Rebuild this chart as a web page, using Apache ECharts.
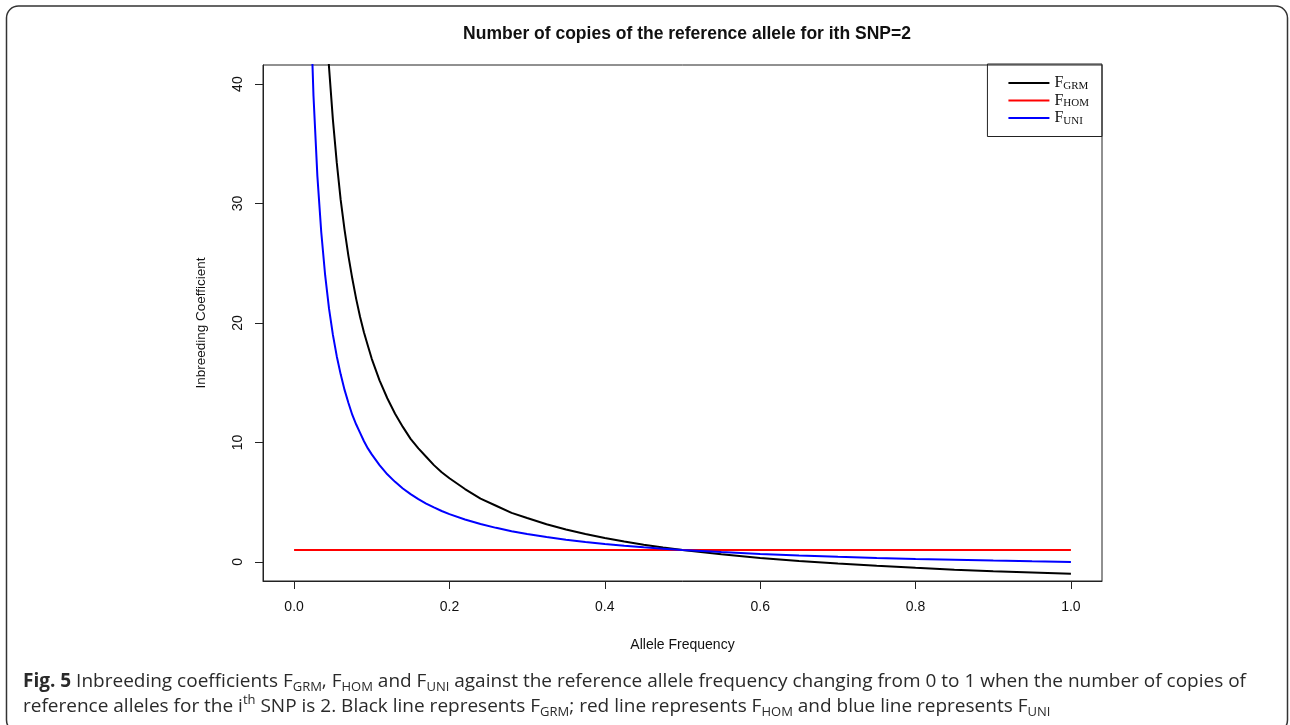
<!DOCTYPE html>
<html>
<head>
<meta charset="utf-8">
<title>Inbreeding coefficients</title>
<script src="https://cdn.jsdelivr.net/npm/echarts@6/dist/echarts.min.js"></script>
<style>
  html, body { margin: 0; padding: 0; background: #fff; }
  #chart-container { width: 1290px; height: 725px; }
</style>
</head>
<body>
<div id="chart-container"></div>
<script>
// allele frequency (x) and values
const freq = [0.020, 0.025, 0.030, 0.035, 0.040, 0.045, 0.050, 0.055, 0.060, 0.065, 0.070, 0.075,
  0.080, 0.085, 0.090, 0.095, 0.100, 0.11, 0.12, 0.13, 0.14, 0.15, 0.16, 0.17, 0.18, 0.19,
  0.20, 0.22, 0.24, 0.26, 0.28, 0.30, 0.325, 0.35, 0.375, 0.40, 0.425, 0.45, 0.475, 0.50,
  0.55, 0.60, 0.65, 0.70, 0.75, 0.80, 0.85, 0.90, 0.95, 1.00];
const fGrm = [97, 77, 63.7, 54.1, 47, 41.4, 37, 33.4, 30.3, 27.8, 25.6, 23.7,
  22, 20.5, 19.2, 18.1, 17, 15.2, 13.7, 12.4, 11.3, 10.3, 9.5, 8.8, 8.1, 7.5,
  7, 6.1, 5.3, 4.7, 4.1, 3.67, 3.15, 2.71, 2.33, 2, 1.71, 1.44, 1.21, 1,
  0.64, 0.33, 0.08, -0.14, -0.33, -0.5, -0.65, -0.78, -0.89, -1];
const fUni = [49, 39, 32.3, 27.6, 24, 21.2, 19, 17.2, 15.7, 14.4, 13.3, 12.3,
  11.5, 10.8, 10.1, 9.5, 9, 8.1, 7.33, 6.7, 6.14, 5.67, 5.25, 4.88, 4.56, 4.26,
  4, 3.55, 3.17, 2.85, 2.57, 2.33, 2.08, 1.86, 1.67, 1.5, 1.35, 1.22, 1.11, 1,
  0.82, 0.67, 0.54, 0.43, 0.33, 0.25, 0.18, 0.11, 0.05, 0];
const homFreq = [0, 1];
const fHom = [1, 1];

const xTicks = [0, 0.2, 0.4, 0.6, 0.8, 1.0];
const yTicks = [0, 10, 20, 30, 40];

const pairs = (xs, ys) => xs.map((x, i) => [x, ys[i]]);

const labelFont = 'Liberation Sans, Arial, sans-serif';
const serifFont = 'Liberation Serif, Times New Roman, serif';
const capFont = 'Open Sans, sans-serif';

const myChart = echarts.init(document.getElementById('chart-container'));

const lineSeries = (name, data, color) => ({
  name: name,
  type: 'line',
  data: data,
  showSymbol: false,
  symbol: 'none',
  clip: true,
  lineStyle: { width: 2, color: color },
  itemStyle: { color: color }
});

const option = {
  animation: false,
  backgroundColor: '#fff',
  title: [
    {
      text: 'Number of copies of the reference allele for ith SNP=2',
      left: 682, top: 20, textAlign: 'center',
      textStyle: { fontFamily: labelFont, fontSize: 17.5, fontWeight: 'bold', color: '#111' }
    },
    {
      // figure caption
      text: '{b|Fig. 5} Inbreeding coefficients F{sub|GRM}, F{sub|HOM} and F{sub|UNI} against the reference allele frequency changing from 0 to 1 when the number of copies of\n' +
        'reference alleles for the i{sup|th} SNP is 2. Black line represents F{sub|GRM}; red line represents F{sub|HOM} and blue line represents F{sub|UNI}',
      left: 18, top: 664,
      textStyle: {
        fontFamily: capFont, fontSize: 19, fontWeight: 'normal', color: '#2a2a2a', lineHeight: 25,
        rich: {
          b: { fontFamily: capFont, fontSize: 19, fontWeight: 'bold', color: '#2a2a2a', lineHeight: 25 },
          sub: { fontFamily: capFont, fontSize: 13, color: '#2a2a2a', lineHeight: 12, verticalAlign: 'bottom' },
          sup: { fontFamily: capFont, fontSize: 13, color: '#2a2a2a', lineHeight: 18, verticalAlign: 'top' }
        }
      }
    }
  ],
  legend: {
    orient: 'vertical',
    right: 188, top: 64,
    selectedMode: false,
    icon: 'rect',
    itemWidth: 41, itemHeight: 2, itemGap: 1,
    padding: [11, 13, 10, 21],
    borderColor: '#222', borderWidth: 1,
    data: ['GRM', 'HOM', 'UNI'],
    formatter: name => '{f|F}{s|' + name + '}',
    textStyle: {
      color: '#111',
      rich: {
        f: { fontFamily: serifFont, fontSize: 16, lineHeight: 17, color: '#111' },
        s: { fontFamily: serifFont, fontSize: 11, lineHeight: 13, color: '#111', verticalAlign: 'bottom' }
      }
    }
  },
  grid: {
    left: 263, right: 188, top: 65, bottom: 144,
    show: true, borderColor: '#222', borderWidth: 1
  },
  xAxis: {
    type: 'value',
    min: -0.04, max: 1.04,
    name: 'Allele Frequency',
    nameLocation: 'middle',
    nameGap: 57,
    nameTextStyle: { fontFamily: labelFont, fontSize: 14, color: '#111' },
    splitLine: { show: false },
    axisLine: { show: true, onZero: false, lineStyle: { color: '#222', width: 1 } },
    axisTick: { show: true, length: 8, customValues: xTicks, lineStyle: { color: '#222' } },
    axisLabel: {
      customValues: xTicks, margin: 19,
      formatter: v => v.toFixed(1),
      fontFamily: labelFont, fontSize: 14, color: '#111'
    }
  },
  yAxis: {
    type: 'value',
    min: -1.6, max: 41.6,
    name: 'Inbreeding Coefficient',
    nameLocation: 'middle',
    nameRotate: 90,
    nameGap: 55,
    nameTextStyle: { fontFamily: labelFont, fontSize: 13.5, color: '#111' },
    splitLine: { show: false },
    axisLine: { show: true, onZero: false, lineStyle: { color: '#222', width: 1 } },
    axisTick: { show: true, length: 8, customValues: yTicks, lineStyle: { color: '#222' } },
    axisLabel: {
      customValues: yTicks, margin: 18, rotate: 90,
      fontFamily: labelFont, fontSize: 14, color: '#111'
    }
  },
  graphic: [
    {
      // rounded frame around the whole figure (bottom edge runs off the picture)
      type: 'rect', silent: true, z: -10,
      shape: { x: 6.5, y: 6, width: 1281, height: 726, r: 12 },
      style: { fill: 'none', stroke: '#333', lineWidth: 1.5 }
    }
  ],
  series: [
    lineSeries('GRM', pairs(freq, fGrm), '#000000'),
    lineSeries('HOM', pairs(homFreq, fHom), '#ff0000'),
    lineSeries('UNI', pairs(freq, fUni), '#0000ff')
  ]
};

myChart.setOption(option);
</script>
</body>
</html>
